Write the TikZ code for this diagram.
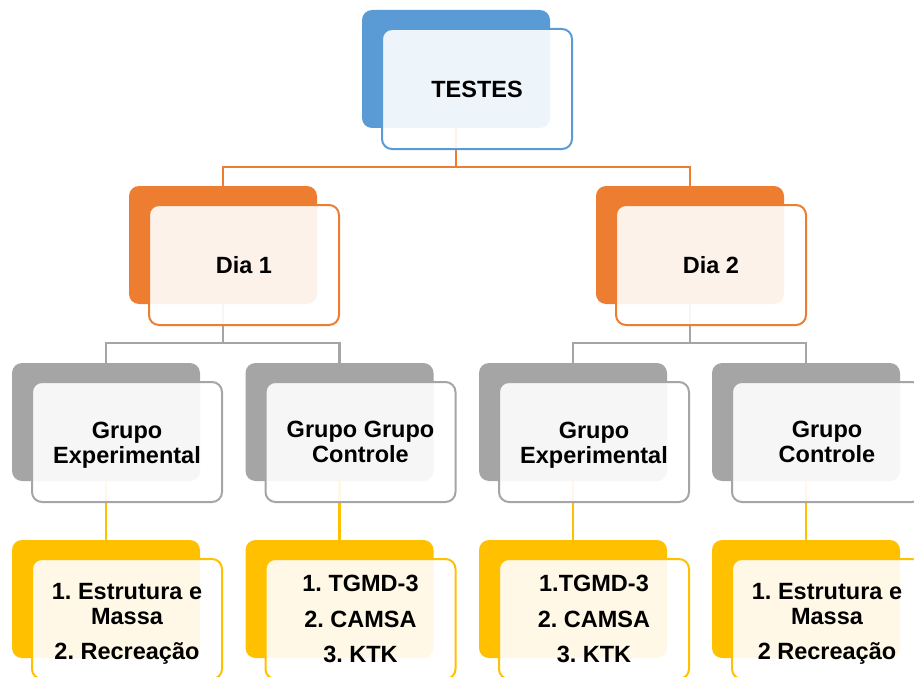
\documentclass[tikz,border=0pt]{standalone}
\usepackage{fontspec}
\setmainfont{Liberation Sans}
\frenchspacing
\definecolor{cblue}{HTML}{5B9BD5}
\definecolor{corange}{HTML}{ED7D31}
\definecolor{cgrey}{HTML}{A5A5A5}
\definecolor{cyellow}{HTML}{FFC000}
\tikzset{
  backbox/.style={rectangle, rounded corners=10pt, minimum width=188pt, minimum height=118pt, inner sep=0pt, outer sep=0pt, fill=#1},
  frontbox/.style={rectangle, rounded corners=10pt, minimum width=190pt, minimum height=120pt, inner sep=0pt, outer sep=0pt, draw=#1, line width=2pt, fill=white, fill opacity=0.9, text opacity=1, text=black, align=center, font=\bfseries\fontsize{23.5}{25}\selectfont},
  conn/.style={draw=#1, line width=2.5pt}
}
\begin{document}
\begin{tikzpicture}[x=1pt,y=-1pt]
\useasboundingbox (0,0) rectangle (914,677);
\clip (0,0) rectangle (914,677);
% back boxes
\node[backbox=cblue] (Tb) at (456,69) {};
\node[backbox=corange] (D1b) at (223,245) {};
\node[backbox=corange] (D2b) at (690,245) {};
\node[backbox=cgrey] (G1b) at (106,422) {};
\node[backbox=cgrey] (G2b) at (339.5,422) {};
\node[backbox=cgrey] (G3b) at (573,422) {};
\node[backbox=cgrey] (G4b) at (806,422) {};
\node[backbox=cyellow] (Y1b) at (106,599) {};
\node[backbox=cyellow] (Y2b) at (339.5,599) {};
\node[backbox=cyellow] (Y3b) at (573,599) {};
\node[backbox=cyellow] (Y4b) at (806,599) {};
% connectors
\coordinate (obus) at (456,167);
\coordinate (gbus1) at (223,343);
\coordinate (gbus2) at (690,343);
\draw[conn=corange] (Tb.south) -- (obus);
\draw[conn=corange] (D1b.north) |- (obus) -| (D2b.north);
\draw[conn=cgrey] (D1b.south) -- (gbus1);
\draw[conn=cgrey] (G1b.north) |- (gbus1) -| (G2b.north);
\draw[conn=cgrey] (D2b.south) -- (gbus2);
\draw[conn=cgrey] (G3b.north) |- (gbus2) -| (G4b.north);
\draw[conn=cyellow] (G1b.south) -- (Y1b.north);
\draw[conn=cyellow] (G2b.south) -- (Y2b.north);
\draw[conn=cyellow] (G3b.south) -- (Y3b.north);
\draw[conn=cyellow] (G4b.south) -- (Y4b.north);
% front boxes
\node[frontbox=cblue] (Tf) at (477,89) {TESTES};
\node[frontbox=corange] (D1f) at (244,265) {Dia 1};
\node[frontbox=corange] (D2f) at (711,265) {Dia 2};
\node[frontbox=cgrey] (G1f) at (127,442) {\rule{0pt}{22pt}Grupo\\Experimental};
\node[frontbox=cgrey] (G2f) at (360.5,442) {Grupo Grupo\\Controle};
\node[frontbox=cgrey] (G3f) at (594,442) {\rule{0pt}{22pt}Grupo\\Experimental};
\node[frontbox=cgrey] (G4f) at (827,442) {Grupo\\Controle};
\node[frontbox=cyellow] (Y1f) at (127,619) {\rule{0pt}{25pt}1. Estrutura e\\Massa\\[10pt]2. Recreação};
\node[frontbox=cyellow] (Y2f) at (360.5,619) {1. TGMD-3\\[11pt]2. CAMSA\\[10pt]3. KTK};
\node[frontbox=cyellow] (Y3f) at (594,619) {1.TGMD-3\\[11pt]2. CAMSA\\[10pt]3. KTK};
\node[frontbox=cyellow] (Y4f) at (827,619) {\rule{0pt}{25pt}1. Estrutura e\\Massa\\[10pt]2 Recreação};
\end{tikzpicture}
\end{document}
